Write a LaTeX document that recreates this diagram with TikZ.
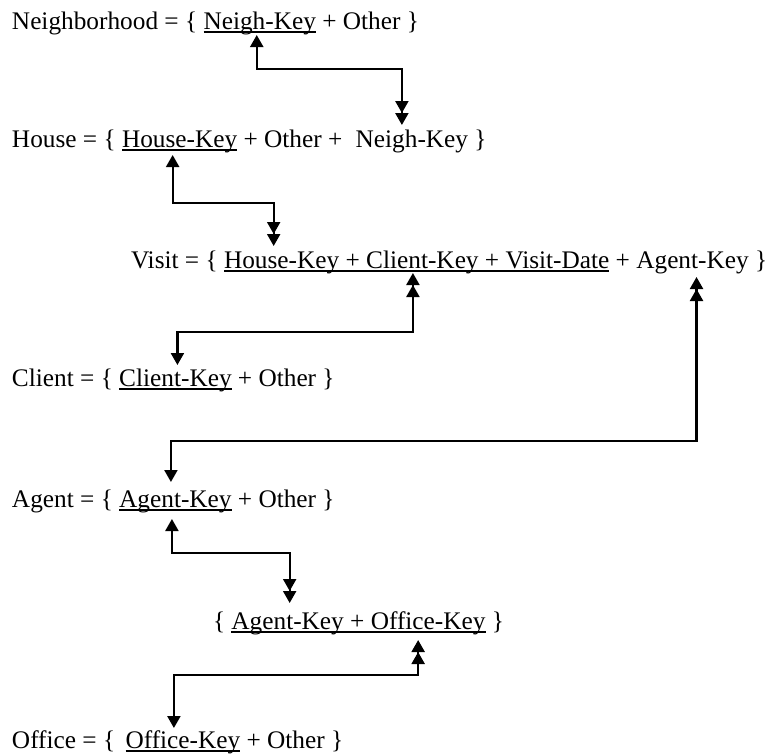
\documentclass[tikz,border=0pt]{standalone}
\usepackage{fontspec}
\setmainfont{Liberation Serif}
\usetikzlibrary{arrows.meta}
\tikzset{
  onetip/.tip={Triangle[width=13pt,length=12pt]},
  manytip/.tip={Triangle[width=13pt,length=12pt,sep=0pt]Triangle[width=13pt,length=12pt]},
  txt/.style={anchor=base west,inner sep=0pt,outer sep=0pt,font=\fontsize{25.3}{30}\selectfont},
  rel/.style={line width=2.2pt,black},
  ul/.style={line width=1.5pt,black}
}
\begin{document}
\begin{tikzpicture}[x=1pt,y=-1pt]
\useasboundingbox (0,0) rectangle (766,755);
% Neighborhood
\node[txt] (n0) at (12,29) {Neighborhood = \{\ \null};
\node[txt] (nk) at (n0.base east) {Neigh-Key};
\node[txt] (n2) at (nk.base east) {\ + Other \}};
% House
\node[txt] (h0) at (12,147) {House = \{\ \null};
\node[txt] (hk) at (h0.base east) {House-Key};
\node[txt] (h2) at (hk.base east) {\ + Other +\ \hspace*{7pt}\null};
\node[txt] (hnk) at (h2.base east) {Neigh-Key};
\node[txt] (h4) at (hnk.base east) {\ \}};
% Visit
\node[txt] (v0) at (131,268) {Visit = \{\ \null};
\node[txt] (vhk) at (v0.base east) {House-Key};
\node[txt] (v2) at (vhk.base east) {\ +\ \null};
\node[txt] (vck) at (v2.base east) {Client-Key};
\node[txt] (v4) at (vck.base east) {\ +\ \null};
\node[txt] (vdt) at (v4.base east) {Visit-Date};
\node[txt] (v6) at (vdt.base east) {\ +\ \null};
\node[txt] (vak) at (v6.base east) {Agent-Key};
\node[txt] (v8) at (vak.base east) {\ \}};
% Client
\node[txt] (c0) at (12,386) {Client = \{\ \null};
\node[txt] (ck) at (c0.base east) {Client-Key};
\node[txt] (c2) at (ck.base east) {\ + Other \}};
% Agent
\node[txt] (a0) at (12,507) {Agent = \{\ \null};
\node[txt] (ak) at (a0.base east) {Agent-Key};
\node[txt] (a2) at (ak.base east) {\ + Other \}};
% Agent-Office link
\node[txt] (l0) at (213,629) {\{\ \null};
\node[txt] (lak) at (l0.base east) {Agent-Key};
\node[txt] (l2) at (lak.base east) {\ +\ \null};
\node[txt] (lok) at (l2.base east) {Office-Key};
\node[txt] (l4) at (lok.base east) {\ \}};
% Office
\node[txt] (o0) at (12,748) {Office = \{\ \hspace*{4pt}\null};
\node[txt] (ok) at (o0.base east) {Office-Key};
\node[txt] (o2) at (ok.base east) {\ + Other \}};
% underlines
\draw[ul] ([yshift=-3pt]nk.base west) -- ([yshift=-3pt]nk.base east);
\draw[ul] ([yshift=-3pt]hk.base west) -- ([yshift=-3pt]hk.base east);
\draw[ul] ([yshift=-3pt]vhk.base west) -- ([yshift=-3pt]vdt.base east);
\draw[ul] ([yshift=-3pt]ck.base west) -- ([yshift=-3pt]ck.base east);
\draw[ul] ([yshift=-3pt]ak.base west) -- ([yshift=-3pt]ak.base east);
\draw[ul] ([yshift=-3pt]lak.base west) -- ([yshift=-3pt]lok.base east);
\draw[ul] ([yshift=-3pt]ok.base west) -- ([yshift=-3pt]ok.base east);
% relationships
\draw[rel,{onetip}-{manytip}] ([xshift=-3pt,yshift=-6pt]nk.base) -- ++(0,34) -| ([xshift=-10pt,yshift=22pt]hnk.base);
\draw[rel,{onetip}-{manytip}] ([xshift=-7pt,yshift=-8pt]hk.base) -- ++(0,48) -| ([xshift=-8pt,yshift=22pt]vhk.base);
\draw[rel,{manytip}-{onetip}] ([xshift=-9.5pt,yshift=-5pt]vck.base) -- ++(0,59) -| ([xshift=2pt,yshift=21pt]ck.base);
\draw[rel,{manytip}-{onetip}] ([xshift=4pt,yshift=-9pt]vak.base) -- ++(0,164) -| ([xshift=-4.5pt,yshift=25pt]ak.base);
\draw[rel,{onetip}-{manytip}] ([xshift=-3.5pt,yshift=-12pt]ak.base) -- ++(0,34) -| ([xshift=2pt,yshift=26pt]lak.base);
\draw[rel,{manytip}-{onetip}] ([xshift=-10pt,yshift=-11pt]lok.base) -- ++(0,35) -| ([xshift=-9pt,yshift=20pt]ok.base);
\end{tikzpicture}
\end{document}
